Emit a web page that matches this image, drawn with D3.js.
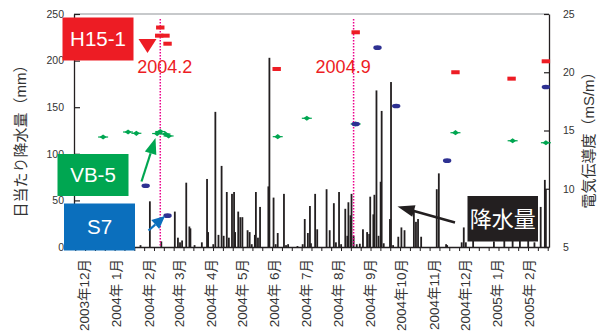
<!DOCTYPE html>
<html>
<head>
<meta charset="utf-8">
<script src="https://cdn.jsdelivr.net/npm/d3@7"></script>
<style>
  body { margin: 0; background: #fff; }
  svg { display: block; font-family: "Liberation Sans", Arial, "Noto Sans CJK JP", sans-serif; }
</style>
</head>
<body>
<svg id="chart" width="604" height="333"></svg>
<script>
// daily rainfall [date, mm]
const rainfall = [
  ["2004-02-07", 2], ["2004-02-16", 49], ["2004-02-27", 6], ["2004-03-11", 38],
  ["2004-03-14", 10], ["2004-03-16", 5], ["2004-03-18", 7], ["2004-03-22", 69],
  ["2004-03-25", 22], ["2004-03-26", 20], ["2004-03-30", 2], ["2004-04-06", 5],
  ["2004-04-11", 73], ["2004-04-12", 16], ["2004-04-17", 3], ["2004-04-19", 145],
  ["2004-04-22", 13], ["2004-04-25", 87], ["2004-04-27", 12], ["2004-04-30", 59],
  ["2004-05-02", 10], ["2004-05-05", 57], ["2004-05-07", 59], ["2004-05-08", 16],
  ["2004-05-11", 38], ["2004-05-13", 32], ["2004-05-15", 32], ["2004-05-20", 18],
  ["2004-05-22", 16], ["2004-05-24", 3], ["2004-05-27", 13], ["2004-05-28", 59],
  ["2004-05-30", 10], ["2004-06-01", 43], ["2004-06-09", 65], ["2004-06-10", 203],
  ["2004-06-14", 53], ["2004-06-16", 3], ["2004-06-18", 15], ["2004-06-24", 57],
  ["2004-06-26", 2], ["2004-06-28", 3], ["2004-07-07", 1], ["2004-07-12", 3],
  ["2004-07-14", 30], ["2004-07-17", 15], ["2004-07-19", 44], ["2004-07-20", 4],
  ["2004-07-24", 57], ["2004-07-26", 19], ["2004-08-04", 62], ["2004-08-07", 18],
  ["2004-08-11", 47], ["2004-08-13", 5], ["2004-08-16", 59], ["2004-08-18", 3],
  ["2004-08-22", 41], ["2004-08-24", 12], ["2004-08-25", 48], ["2004-08-27", 34],
  ["2004-08-28", 57], ["2004-08-30", 12], ["2004-09-02", 3], ["2004-09-05", 3.5],
  ["2004-09-08", 19], ["2004-09-12", 16], ["2004-09-14", 14], ["2004-09-15", 54],
  ["2004-09-18", 35], ["2004-09-19", 56], ["2004-09-21", 168], ["2004-09-23", 12],
  ["2004-09-25", 70], ["2004-09-26", 146], ["2004-09-28", 4], ["2004-10-04", 30],
  ["2004-10-05", 177], ["2004-10-07", 2], ["2004-10-12", 11], ["2004-10-15", 21],
  ["2004-10-18", 18], ["2004-10-27", 40], ["2004-10-29", 27], ["2004-10-31", 30],
  ["2004-11-03", 11], ["2004-11-18", 62], ["2004-11-20", 79], ["2004-11-27", 3],
  ["2004-11-28", 2], ["2004-12-12", 5], ["2004-12-14", 21], ["2004-12-16", 5],
  ["2004-12-23", 10], ["2005-01-12", 6], ["2005-01-22", 12], ["2005-01-30", 8],
  ["2005-02-06", 15], ["2005-02-14", 10], ["2005-02-20", 5], ["2005-02-26", 43],
  ["2005-03-02", 72], ["2005-03-03", 62]
]

// electric conductivity (mS/m) per well
const h15 = [
  ["2004-02-26", 23.84], ["2004-02-25", 23.14], ["2004-03-02", 23.14], ["2004-03-04", 22.45],
  ["2004-06-17", 20.28], ["2004-09-01", 23.43], ["2004-12-06", 20.0], ["2005-01-29", 19.45],
  ["2005-03-03", 20.94]
]
const s7 = [
  ["2004-02-12", 10.26], ["2004-03-04", 7.69], ["2004-09-01", 15.56], ["2004-09-22", 22.11],
  ["2004-10-10", 17.10], ["2004-11-28", 12.41], ["2005-03-03", 18.73]
]
const vb5 = [
  ["2004-01-02", 14.44], ["2004-01-26", 14.87], ["2004-02-03", 14.76], ["2004-02-23", 14.74],
  ["2004-02-26", 14.91], ["2004-03-02", 14.70], ["2004-03-05", 14.53], ["2004-06-18", 14.47],
  ["2004-07-16", 16.05], ["2004-09-01", 15.56], ["2004-12-06", 14.81], ["2005-01-30", 14.12],
  ["2005-03-03", 13.95]
]

const monthLabels = ["2003年12月", "2004年 1月", "2004年 2月", "2004年 3月", "2004年 4月",
  "2004年 5月", "2004年 6月", "2004年 7月", "2004年 8月", "2004年 9月", "2004年10月",
  "2004年11月", "2004年12月", "2005年 1月", "2005年 2月"]
const rainTicks = [0, 50, 100, 150, 200, 250]
const ecTicks = [5, 10, 15, 20, 25]
const markerDates = [["2004-02-26", "2004.2"], ["2004-08-30", "2004.9"]]

const parse = d3.timeParse("%Y-%m-%d")
const svg = d3.select("#chart")

const mLeft = 74, mRight = 549, mTop = 14, mBottom = 247
const x = d3.scaleTime()
  .domain([new Date(2003, 11, 5), new Date(2005, 2, 6)])
  .range([mLeft, mRight])
const yRain = d3.scaleLinear().domain([0, 250]).range([mBottom, mTop])
const yEc = d3.scaleLinear().domain([5, 25]).range([mBottom, mTop])

const red = "#ed1c24", green = "#00a651", blue = "#0b6fbd", navy = "#2e3192", magenta = "#ec008c"

// top border
svg.append("line")
  .attr("x1", mLeft).attr("x2", mRight).attr("y1", mTop).attr("y2", mTop)
  .attr("stroke", "#b5b7ba").attr("stroke-width", 1.5)

// rainfall bars
svg.append("g").selectAll("rect")
  .data(rainfall)
  .enter()
  .append("rect")
  .attr("x", d => x(parse(d[0])) - 0.9)
  .attr("width", 1.8)
  .attr("y", d => yRain(d[1]))
  .attr("height", d => mBottom - yRain(d[1]))
  .attr("fill", "#231f20")

// dotted date lines
const mk = svg.append("g")
markerDates.forEach((m, i) => {
  const mx = x(parse(m[0]))
  mk.append("line")
    .attr("x1", mx).attr("x2", mx).attr("y1", mTop + 5).attr("y2", mBottom)
    .attr("stroke", magenta).attr("stroke-width", 1.5)
    .attr("stroke-dasharray", "1.5,1.5")
  mk.append("text")
    .attr("x", mx + (i == 0 ? -23 : -38))
    .attr("y", 72.5)
    .attr("fill", red)
    .attr("font-size", 18)
    .text(m[1])
})

// axes
const gl = svg.append("g").attr("transform", `translate(${mLeft},0)`)
  .call(d3.axisLeft(yRain).tickValues(rainTicks).tickSizeInner(-6).tickSizeOuter(0).tickPadding(10))
const gr = svg.append("g").attr("transform", `translate(${mRight},0)`)
  .call(d3.axisRight(yEc).tickValues(ecTicks).tickSizeInner(-5).tickSizeOuter(0).tickPadding(14))
;[gl, gr].forEach(g => {
  g.select(".domain").attr("stroke", "#231f20").attr("stroke-width", 1.3)
  g.selectAll(".tick line").attr("stroke", "#231f20").attr("stroke-width", 1.2)
  g.selectAll(".tick text").attr("font-size", 10.5).attr("fill", "#333")
    .attr("font-family", "Liberation Sans, Arial, sans-serif")
})

// bottom axis with ~10 day ticks
const t0 = x.domain()[0].getTime(), day = 864e5
const tickDates = d3.range(49).map(i => new Date(t0 + (1.2 + i * 9.47) * day))
const gb = svg.append("g").attr("transform", `translate(0,${mBottom})`)
  .call(d3.axisBottom(x).tickValues(tickDates).tickSizeInner(4).tickSizeOuter(0).tickFormat(""))
gb.select(".domain").attr("stroke", "#231f20").attr("stroke-width", 1.3)
gb.selectAll(".tick line").attr("stroke", "#231f20").attr("stroke-width", 1)

const months = d3.timeMonth.range(new Date(2003, 11, 1), new Date(2005, 2, 1))
svg.append("g").selectAll("text")
  .data(months)
  .enter()
  .append("text")
  .attr("transform", d => `translate(${x(d3.timeDay.offset(d, 14))},259) rotate(-90)`)
  .attr("text-anchor", "end")
  .attr("dy", "0.36em")
  .attr("font-size", 13.5)
  .attr("fill", "#333")
  .text((d, i) => monthLabels[i])

// axis titles
svg.append("text")
  .attr("transform", `translate(21,${(mTop + mBottom) / 2 + 7}) rotate(-90)`)
  .attr("text-anchor", "middle").attr("dy", "0.36em")
  .attr("font-size", 15).attr("fill", "#333")
  .text("日当たり降水量（mm）")
svg.append("text")
  .attr("transform", `translate(589,${(mTop + mBottom) / 2 + 6}) rotate(-90)`)
  .attr("text-anchor", "middle").attr("dy", "0.36em")
  .attr("font-size", 15).attr("fill", "#333")
  .text("電気伝導度（mS/m）")

// conductivity markers
const gv = svg.append("g")
vb5.forEach(d => {
  const cx = x(parse(d[0])), cy = yEc(d[1])
  gv.append("line").attr("x1", cx - 5).attr("x2", cx + 5).attr("y1", cy).attr("y2", cy)
    .attr("stroke", green).attr("stroke-width", 1.2)
  gv.append("path")
    .attr("d", `M${cx - 3.5},${cy}L${cx},${cy - 2.6}L${cx + 3.5},${cy}L${cx},${cy + 2.6}Z`)
    .attr("fill", green)
})
svg.append("g").selectAll("ellipse")
  .data(s7)
  .enter()
  .append("ellipse")
  .attr("cx", d => x(parse(d[0])))
  .attr("cy", d => yEc(d[1]))
  .attr("rx", 4.2).attr("ry", 2.3)
  .attr("fill", navy)
svg.append("g").selectAll("rect")
  .data(h15)
  .enter()
  .append("rect")
  .attr("x", d => x(parse(d[0])) - 4.2)
  .attr("y", d => yEc(d[1]) - 2)
  .attr("width", 8.4).attr("height", 4)
  .attr("fill", red)

// legend boxes
function box(x0, y0, w, h, fill, label, fs) {
  svg.append("rect").attr("x", x0).attr("y", y0).attr("width", w).attr("height", h).attr("fill", fill)
  svg.append("text")
    .attr("x", x0 + w / 2).attr("y", y0 + h / 2)
    .attr("text-anchor", "middle").attr("dy", "0.36em")
    .attr("font-size", fs).attr("fill", "#fff")
    .text(label)
}
box(62.5, 17.5, 71, 43, red, "H15-1", 20.5)
box(57.5, 154, 71, 42, green, "VB-5", 20.5)
box(64, 203.5, 71, 47, blue, "S7", 20.5)
box(467.5, 196, 70.5, 45.5, "#231f20", "降水量", 22)

// red pointer
svg.append("path").attr("d", "M138.5,39L156.5,39L147.5,53Z").attr("fill", red)

function arrow(x1, y1, x2, y2, len, wid, col, sw) {
  const a = Math.atan2(y2 - y1, x2 - x1)
  const bx = x2 - len * Math.cos(a), by = y2 - len * Math.sin(a)
  const px = Math.sin(a) * wid / 2, py = -Math.cos(a) * wid / 2
  svg.append("line").attr("x1", x1).attr("y1", y1).attr("x2", bx).attr("y2", by)
    .attr("stroke", col).attr("stroke-width", sw)
  svg.append("path")
    .attr("d", `M${x2},${y2}L${bx + px},${by + py}L${bx - px},${by - py}Z`)
    .attr("fill", col)
}
arrow(141.5, 181.5, 155.5, 138, 16, 12, green, 2.2)
arrow(148.5, 230.5, 165, 216, 13, 12, blue, 2.2)
arrow(455, 222.5, 397.5, 206.5, 17, 12, "#231f20", 2.5)
</script>
</body>
</html>
